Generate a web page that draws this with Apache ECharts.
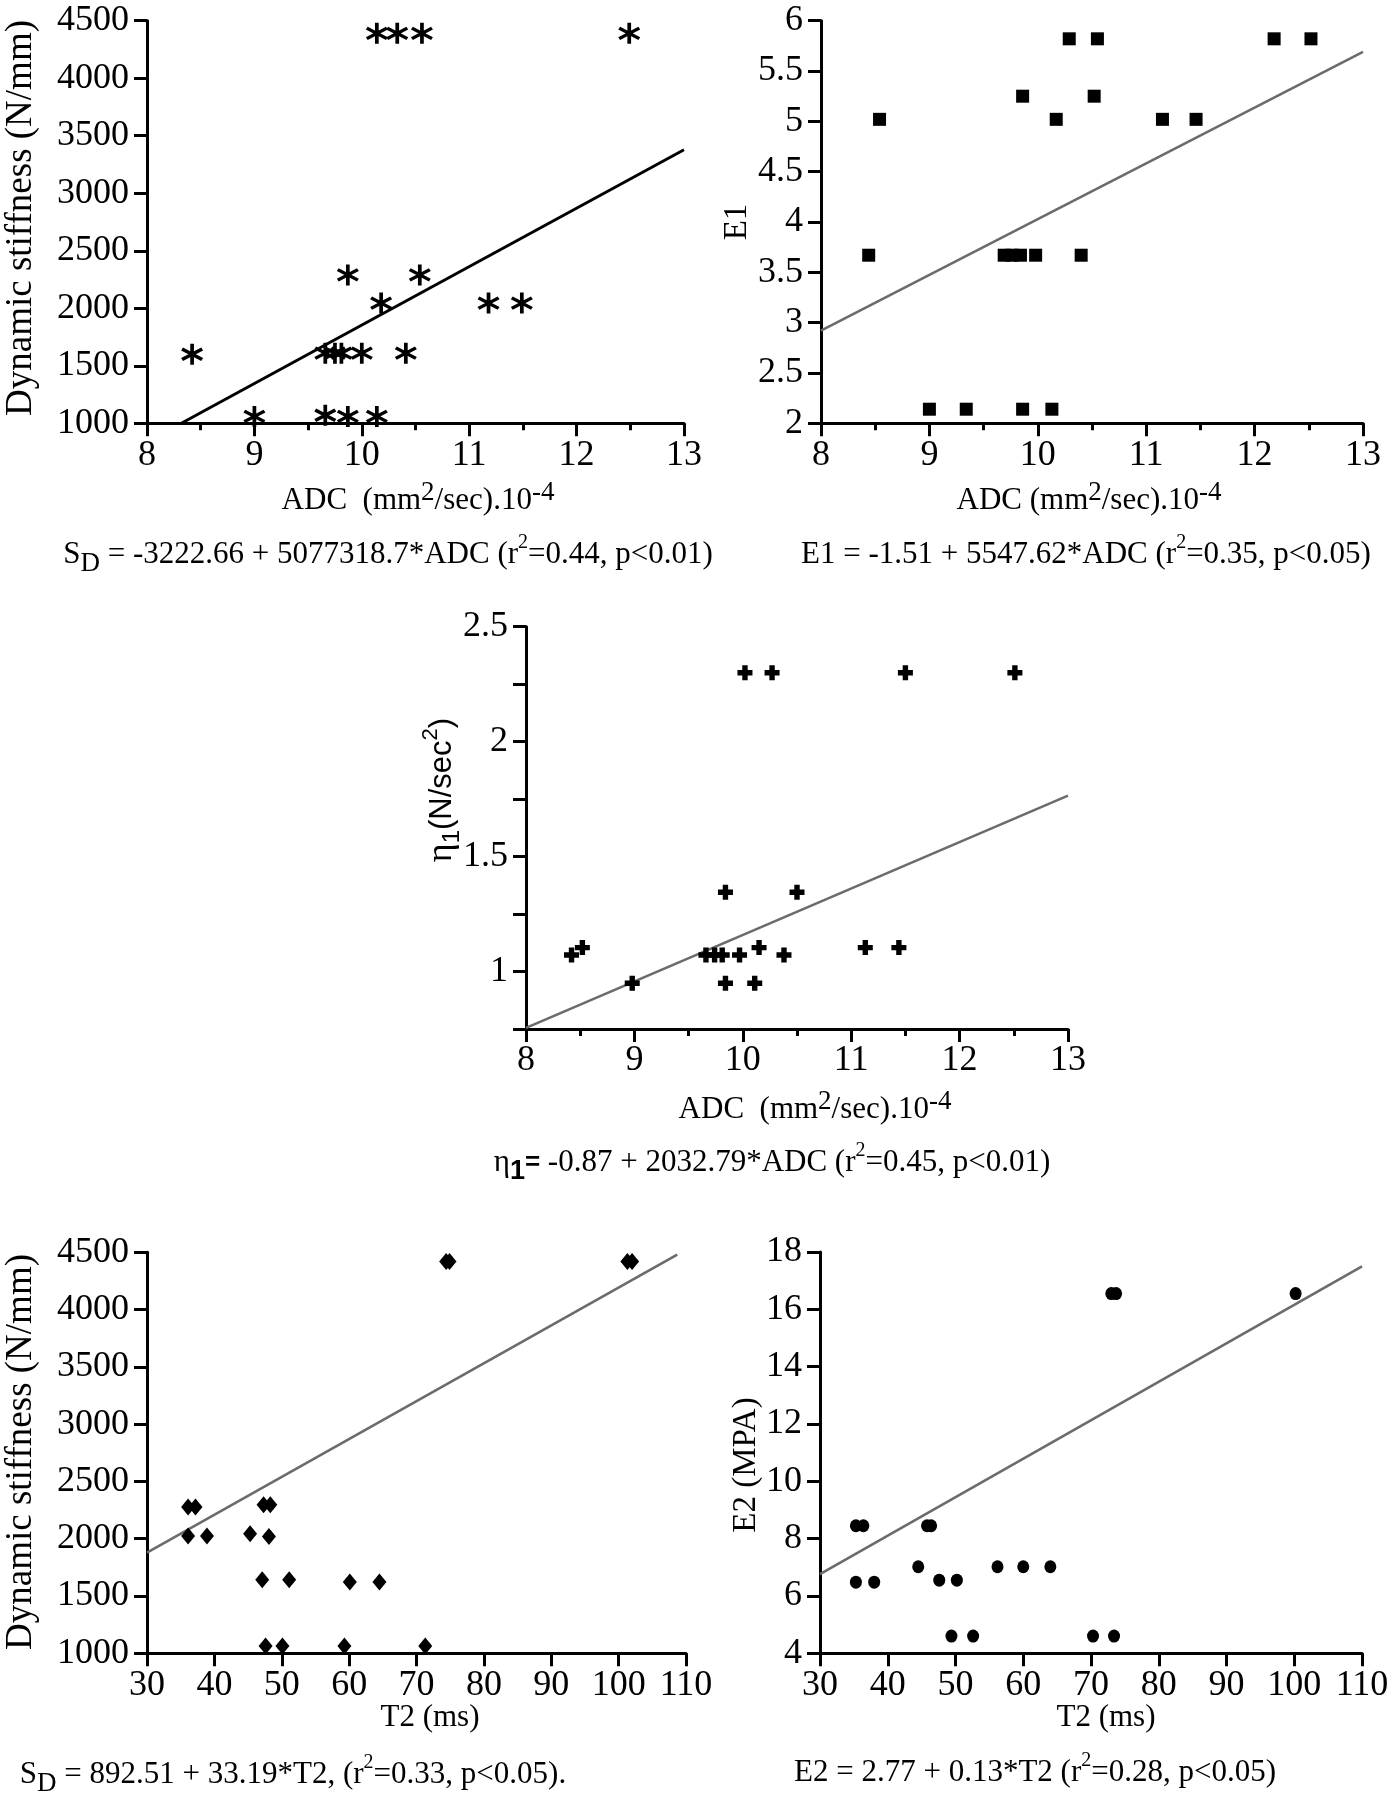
<!DOCTYPE html>
<html>
<head>
<meta charset="utf-8">
<script src="https://cdn.jsdelivr.net/npm/echarts@6/dist/echarts.min.js"></script>
<style>
html,body{margin:0;padding:0;background:#fff;}
#chart{width:1393px;height:1800px;}
</style>
</head>
<body>
<div id="chart"></div>
<script>
// ---------- DATA ----------
// Panel 1: ADC vs dynamic stiffness
const adc1 = [8.42, 9.00, 9.66, 9.87, 10.14, 9.66, 9.75, 9.81, 10.00, 10.41, 9.87, 10.54, 10.18, 11.18, 11.49, 10.14, 10.33, 10.56, 12.49];
const sd1  = [1600, 1060, 1070, 1060, 1060, 1610, 1610, 1610, 1610, 1610, 2290, 2290, 2045, 2045, 2045, 4390, 4390, 4390, 4390];
const fit1 = [[8.32, 1000], [13, 3378]];

// Panel 2: ADC vs E1
const adc2 = [8.44, 9.69, 9.76, 9.84, 9.98, 10.40, 9.00, 9.34, 9.86, 10.13, 9.86, 10.52, 8.54, 10.17, 11.15, 11.46, 10.29, 10.55, 12.18, 12.52];
const e1   = [3.67, 3.67, 3.67, 3.67, 3.67, 3.67, 2.14, 2.14, 2.14, 2.14, 5.25, 5.25, 5.02, 5.02, 5.02, 5.02, 5.82, 5.82, 5.82, 5.82];
const fit2 = [[8, 2.92], [13, 5.69]];

// Panel 3: ADC vs eta1
const adc3 = [8.42, 8.52, 8.98, 9.66, 9.74, 9.81, 9.97, 10.38, 9.84, 10.11, 10.15, 11.13, 11.44, 9.84, 10.50, 10.02, 10.27, 11.50, 12.51];
const eta1 = [1.072, 1.104, 0.949, 1.072, 1.072, 1.072, 1.072, 1.072, 0.949, 0.949, 1.104, 1.104, 1.104, 1.345, 1.345, 2.30, 2.30, 2.30, 2.30];
const fit3 = [[8, 0.755], [13, 1.765]];

// Panel 4: T2 vs dynamic stiffness
const t2a = [36.1, 37.2, 36.1, 38.9, 45.3, 48.1, 47.3, 48.3, 47.1, 51.1, 60.1, 64.5, 74.4, 74.9, 101.3, 102.0, 47.6, 50.1, 59.3, 71.3];
const sd4 = [2276, 2276, 2023, 2023, 2044, 2020, 2296, 2296, 1643, 1643, 1622, 1622, 4419, 4419, 4419, 4419, 1064, 1064, 1064, 1064];
const fit4 = [[30, 1878], [108.7, 4480]];

// Panel 5: T2 vs E2
const t2b = [35.3, 36.4, 35.3, 38.0, 44.5, 45.8, 46.4, 47.6, 50.2, 56.2, 60.0, 64.0, 49.4, 52.6, 70.3, 73.4, 73.0, 73.7, 100.2];
const e2  = [8.45, 8.45, 6.48, 6.48, 7.02, 8.45, 8.45, 6.55, 6.55, 7.02, 7.02, 7.02, 4.60, 4.60, 4.60, 4.60, 16.55, 16.55, 16.55];
const fit5 = [[30, 6.76], [110, 17.5]];

// axis ranges / ticks
const adcRange = [8, 13, 1];
const sdRange  = [1000, 4500, 500];
const e1Range  = [2, 6, 0.5];
const etaRange = [0.75, 2.5, 0.25];
const t2Range  = [30, 110, 10];
const e2Range  = [4, 18, 2];

// ---------- HELPERS ----------
const SERIF = '"Liberation Serif","Times New Roman",serif';
const SANS = '"Liberation Sans",Arial,sans-serif';
const zip = (xs, ys) => xs.map((x, i) => [x, ys[i]]);

function asteriskPath(n, R, t) {
  let d = '';
  for (let i = 0; i < n; i++) {
    const th = Math.PI / 2 + i * Math.PI / n;
    const dx = Math.cos(th), dy = Math.sin(th);
    const px = -dy * t / 2, py = dx * t / 2;
    const pts = [[R*dx+px, R*dy+py], [R*dx-px, R*dy-py], [-R*dx-px, -R*dy-py], [-R*dx+px, -R*dy+py]];
    d += 'M' + pts.map(p => (p[0] + R).toFixed(3) + ',' + (p[1] + R).toFixed(3)).join(' L') + ' Z ';
  }
  return 'path://' + d;
}
const PLUS = 'path://M3.2,0 L6.8,0 L6.8,3.2 L10,3.2 L10,6.8 L6.8,6.8 L6.8,10 L3.2,10 L3.2,6.8 L0,6.8 L0,3.2 L3.2,3.2 Z';

const grids = [
  {left: 147, top: 20.7, width: 537, height: 402.6},
  {left: 821, top: 20.7, width: 542, height: 402.6},
  {left: 526, top: 626.7, width: 542, height: 402.3},
  {left: 147, top: 1252.3, width: 539, height: 401},
  {left: 820, top: 1252, width: 542, height: 401.3}
];

const plain = v => String(v);

function axisBase() {
  return {
    axisLine: {show: true, onZero: false, lineStyle: {color: '#000', width: 3}},
    axisTick: {show: true, inside: false, length: 13, lineStyle: {color: '#000', width: 3}},
    splitLine: {show: false},
    axisLabel: {color: '#000', fontFamily: SERIF, fontSize: 36, formatter: plain}
  };
}
function xAxis(gi, r, minor) {
  const a = axisBase();
  Object.assign(a, {type: 'value', gridIndex: gi, min: r[0], max: r[1], interval: r[2]});
  a.axisLabel.margin = 14;
  if (minor) a.minorTick = {show: true, splitNumber: 2, length: 7, lineStyle: {color: '#000', width: 3}};
  return a;
}
function yAxis(gi, r, fmt) {
  const a = axisBase();
  Object.assign(a, {type: 'value', gridIndex: gi, min: r[0], max: r[1], interval: r[2]});
  a.axisLabel.margin = 18;
  if (fmt) a.axisLabel.formatter = fmt;
  return a;
}
function scatter(gi, data, symbol, size) {
  return {type: 'scatter', xAxisIndex: gi, yAxisIndex: gi, data: data, symbol: symbol, symbolSize: size,
          itemStyle: {color: '#000', opacity: 1}, z: 3, silent: true};
}
function fitLine(gi, data, color, width) {
  return {type: 'line', xAxisIndex: gi, yAxisIndex: gi, data: data, symbol: 'none',
          lineStyle: {color: color, width: width}, z: 2, silent: true};
}

const rich = {
  b:   {fontFamily: SERIF, fontSize: 31, lineHeight: 44, color: '#000'},
  sup: {fontFamily: SERIF, fontSize: 20, lineHeight: 20, verticalAlign: 'top', color: '#000'},
  supL:{fontFamily: SERIF, fontSize: 27, lineHeight: 27, verticalAlign: 'top', color: '#000'},
  sub: {fontFamily: SERIF, fontSize: 27, lineHeight: 27, verticalAlign: 'bottom', color: '#000'},
  subS:{fontFamily: SANS, fontSize: 27, fontWeight: 'bold', lineHeight: 27, verticalAlign: 'bottom', color: '#000'},
  eqS: {fontFamily: SANS, fontSize: 26, fontWeight: 'bold', lineHeight: 44, color: '#000'},
  y:   {fontFamily: SERIF, fontSize: 37, lineHeight: 44, color: '#000'},
  y2:  {fontFamily: SERIF, fontSize: 33, lineHeight: 44, color: '#000'},
  ys:  {fontFamily: SANS, fontSize: 31, lineHeight: 44, color: '#000'},
  ysub:{fontFamily: SANS, fontSize: 24, lineHeight: 24, verticalAlign: 'bottom', color: '#000'},
  ysup:{fontFamily: SANS, fontSize: 22, lineHeight: 22, verticalAlign: 'top', color: '#000'},
  yeta:{fontFamily: SERIF, fontSize: 36, lineHeight: 44, color: '#000'}
};

function txt(x, y, text, rot) {
  return {type: 'text', x: x, y: y, rotation: rot || 0, silent: true,
          style: {text: text, rich: rich, align: 'center', verticalAlign: 'middle', fill: '#000'}};
}
const ADC_TITLE = '{b|ADC  (mm}{supL|2}{b|/sec).10}{supL|-4}';
const ADC_TITLE2 = '{b|ADC (mm}{supL|2}{b|/sec).10}{supL|-4}';

const R90 = Math.PI / 2;
const graphics = [
  // panel 1
  txt(21, 218, '{y|Dynamic stiffness (N/mm)}', R90),
  txt(418, 501, ADC_TITLE),
  txt(388, 555, '{b|S}{sub|D}{b| = -3222.66 + 5077318.7*ADC (r}{sup|2}{b|=0.44, p<0.01)}'),
  // panel 2
  txt(737, 222, '{y2|E1}', R90),
  txt(1089, 501, ADC_TITLE2),
  txt(1086, 555, '{b|E1 = -1.51 + 5547.62*ADC (r}{sup|2}{b|=0.35, p<0.05)}'),
  // panel 3
  txt(442, 790, '{yeta|η}{ysub|1}{ys|(N/sec}{ysup|2}{ys|)}', R90),
  txt(815, 1110, ADC_TITLE),
  txt(772, 1163, '{b|η}{subS|1}{eqS|=}{b| -0.87 + 2032.79*ADC (r}{sup|2}{b|=0.45, p<0.01)}'),
  // panel 4
  txt(21, 1452, '{y|Dynamic stiffness (N/mm)}', R90),
  txt(430, 1718, '{b|T2 (ms)}'),
  txt(293, 1775, '{b|S}{sub|D}{b| = 892.51 + 33.19*T2, (r}{sup|2}{b|=0.33, p<0.05).}'),
  // panel 5
  txt(746, 1465, '{y2|E2 (MPA)}', R90),
  txt(1106, 1718, '{b|T2 (ms)}'),
  txt(1035, 1773, '{b|E2 = 2.77 + 0.13*T2 (r}{sup|2}{b|=0.28, p<0.05)}')
];

const halfOnly = v => (Math.abs(v * 2 - Math.round(v * 2)) < 1e-6 && v > 0.8) ? String(v) : '';

const option = {
  backgroundColor: '#fff',
  animation: false,
  grid: grids,
  xAxis: [
    xAxis(0, adcRange, true),
    xAxis(1, adcRange, true),
    xAxis(2, adcRange, true),
    xAxis(3, t2Range, false),
    xAxis(4, t2Range, false)
  ],
  yAxis: [
    yAxis(0, sdRange),
    yAxis(1, e1Range),
    yAxis(2, etaRange, halfOnly),
    yAxis(3, sdRange),
    yAxis(4, e2Range)
  ],
  series: [
    fitLine(0, fit1, '#000', 3),
    scatter(0, zip(adc1, sd1), asteriskPath(3, 10, 3.2), [22, 21]),
    fitLine(1, fit2, '#6b6b6b', 2.6),
    scatter(1, zip(adc2, e1), 'rect', 13),
    fitLine(2, fit3, '#6b6b6b', 2.6),
    scatter(2, zip(adc3, eta1), PLUS, 15),
    fitLine(3, fit4, '#6b6b6b', 2.6),
    scatter(3, zip(t2a, sd4), 'diamond', [14, 17]),
    fitLine(4, fit5, '#6b6b6b', 2.6),
    scatter(4, zip(t2b, e2), 'circle', [12, 13])
  ],
  graphic: graphics
};

const chart = echarts.init(document.getElementById('chart'), null, {renderer: 'canvas'});
chart.setOption(option);
</script>
</body>
</html>
